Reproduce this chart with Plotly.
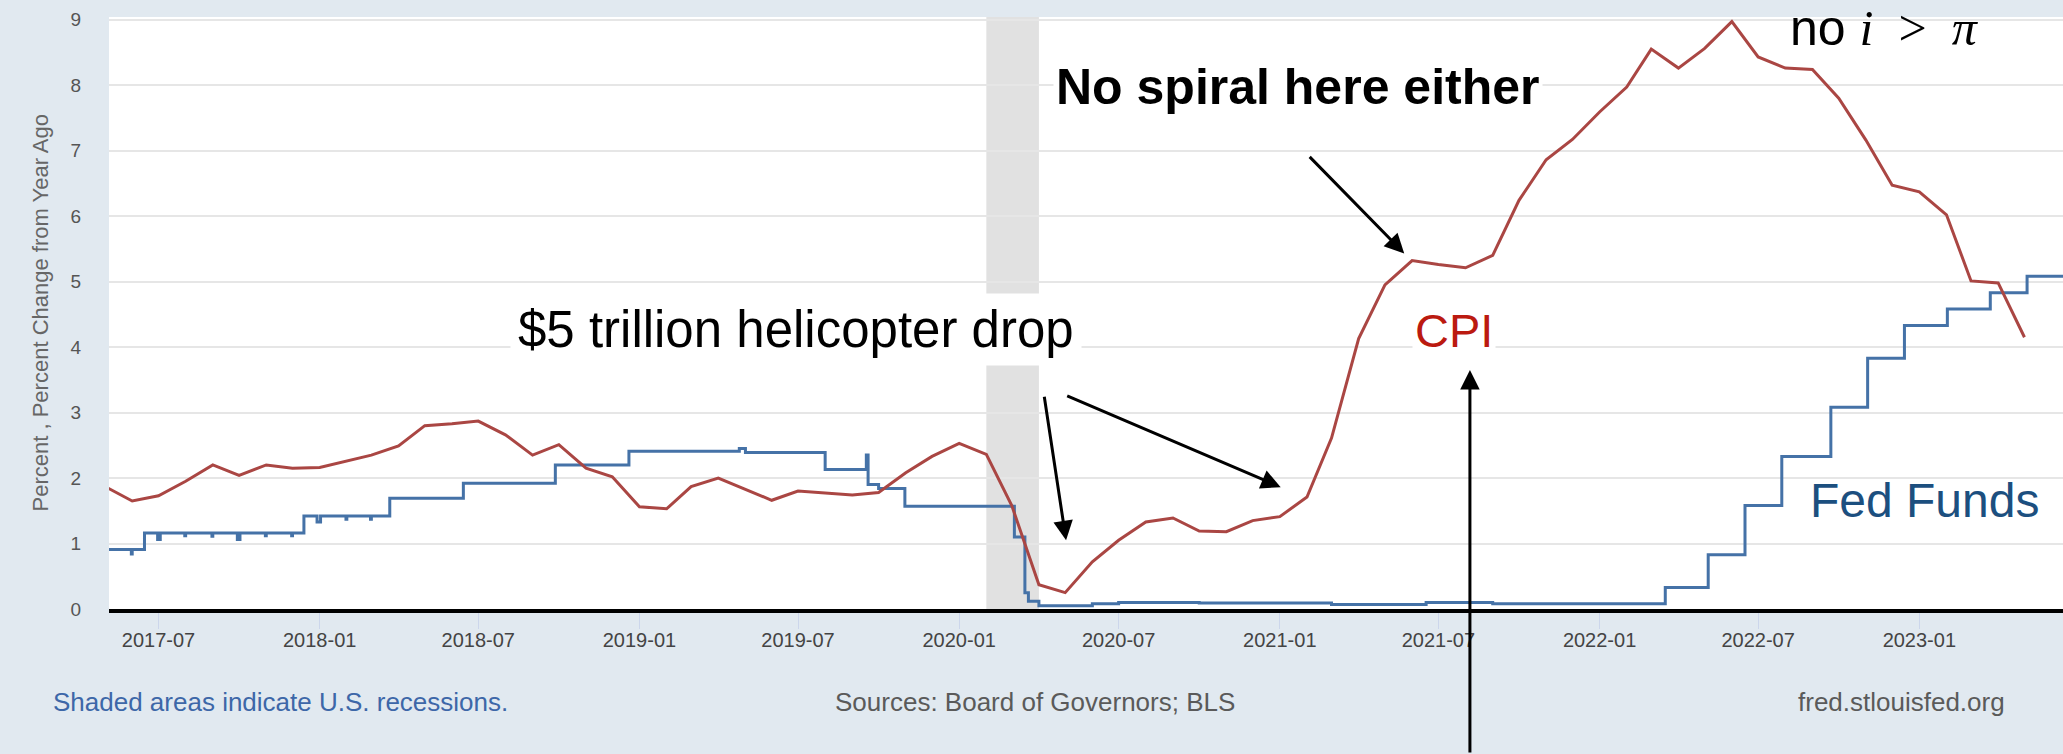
import plotly.graph_objects as go

# CPI, percent change from year ago (monthly)
cpi_months = [
    '2017-05-01', '2017-06-01', '2017-07-01', '2017-08-01', '2017-09-01', '2017-10-01', '2017-11-01', '2017-12-01',
    '2018-01-01', '2018-02-01', '2018-03-01', '2018-04-01', '2018-05-01', '2018-06-01', '2018-07-01', '2018-08-01',
    '2018-09-01', '2018-10-01', '2018-11-01', '2018-12-01',
    '2019-01-01', '2019-02-01', '2019-03-01', '2019-04-01', '2019-05-01', '2019-06-01', '2019-07-01', '2019-08-01',
    '2019-09-01', '2019-10-01', '2019-11-01', '2019-12-01',
    '2020-01-01', '2020-02-01', '2020-03-01', '2020-04-01', '2020-05-01', '2020-06-01', '2020-07-01', '2020-08-01',
    '2020-09-01', '2020-10-01', '2020-11-01', '2020-12-01',
    '2021-01-01', '2021-02-01', '2021-03-01', '2021-04-01', '2021-05-01', '2021-06-01', '2021-07-01', '2021-08-01',
    '2021-09-01', '2021-10-01', '2021-11-01', '2021-12-01',
    '2022-01-01', '2022-02-01', '2022-03-01', '2022-04-01', '2022-05-01', '2022-06-01', '2022-07-01', '2022-08-01',
    '2022-09-01', '2022-10-01', '2022-11-01', '2022-12-01',
    '2023-01-01', '2023-02-01', '2023-03-01', '2023-04-01', '2023-05-01',
]
cpi_values = [
    1.87, 1.65, 1.73, 1.95, 2.20, 2.04, 2.20, 2.15,
    2.16, 2.26, 2.35, 2.49, 2.80, 2.83, 2.87, 2.66, 2.35, 2.51, 2.15, 2.02,
    1.56, 1.53, 1.87, 2.00, 1.83, 1.66, 1.80, 1.77, 1.74, 1.78, 2.08, 2.33,
    2.53, 2.36, 1.58, 0.37, 0.25, 0.72, 1.05, 1.33, 1.39, 1.19, 1.18, 1.35,
    1.41, 1.71, 2.61, 4.13, 4.95, 5.32, 5.26, 5.21, 5.40, 6.24, 6.86, 7.17,
    7.59, 7.97, 8.55, 8.26, 8.56, 8.97, 8.43, 8.26, 8.24, 7.80, 7.16, 6.47,
    6.37, 6.02, 5.01, 4.98, 4.15,
]

# Effective federal funds rate (daily, kept as the dates where the level changes)
ff_dates = [
    '2017-05-05', '2017-05-31', '2017-06-01', '2017-06-15', '2017-06-30', '2017-07-03', '2017-07-31', '2017-08-01',
    '2017-08-31', '2017-09-01', '2017-09-29', '2017-10-02', '2017-10-31', '2017-11-01', '2017-11-30', '2017-12-01',
    '2017-12-14', '2017-12-29', '2018-01-02', '2018-01-31', '2018-02-01', '2018-02-28', '2018-03-01', '2018-03-22',
    '2018-06-14', '2018-09-27', '2018-12-20', '2019-04-25', '2019-05-02', '2019-08-01', '2019-09-17', '2019-09-19',
    '2019-10-01', '2019-10-31', '2020-03-04', '2020-03-16', '2020-03-20', '2020-04-01', '2020-06-01', '2020-07-01',
    '2020-10-01', '2021-01-01', '2021-03-01', '2021-06-17', '2021-09-01', '2022-03-17', '2022-05-05', '2022-06-16',
    '2022-07-28', '2022-09-22', '2022-11-03', '2022-12-15', '2023-02-02', '2023-03-23', '2023-05-04', '2023-06-14',
]
ff_values = [
    0.91, 0.84, 0.91, 1.16, 1.06, 1.16, 1.12, 1.16,
    1.11, 1.16, 1.06, 1.16, 1.12, 1.16, 1.12, 1.16,
    1.42, 1.33, 1.42, 1.37, 1.42, 1.37, 1.42, 1.69,
    1.92, 2.20, 2.41, 2.45, 2.39, 2.13, 2.35, 1.90,
    1.84, 1.57, 1.10, 0.25, 0.12, 0.05, 0.08, 0.10,
    0.09, 0.09, 0.07, 0.10, 0.08, 0.33, 0.83, 1.58,
    2.33, 3.08, 3.83, 4.33, 4.58, 4.83, 5.08, 5.08,
]

recession = ('2020-02-01', '2020-04-01')

fig = go.Figure()
fig.add_trace(go.Scatter(x=ff_dates, y=ff_values, mode='lines', line_shape='hv',
                         line=dict(color='#4572a7', width=3), name='Fed Funds'))
fig.add_trace(go.Scatter(x=cpi_months, y=cpi_values, mode='lines',
                         line=dict(color='#aa4643', width=3), name='CPI'))

fig.add_shape(type='rect', xref='x', yref='paper', x0=recession[0], x1=recession[1], y0=0, y1=1,
              fillcolor='#e1e1e1', line_width=0, layer='below')

sans = 'Liberation Sans, Arial, Helvetica, sans-serif'

notes = [
    dict(text='$5 trillion helicopter drop', x=0.3516, y=0.4713, font=dict(size=51, color='black'),
         bgcolor='white', borderpad=7),
    dict(text='<b>No spiral here either</b>', x=0.6084, y=0.8818, font=dict(size=50, color='black'),
         bgcolor='white', borderpad=2),
    dict(text='CPI', x=0.6883, y=0.470, font=dict(size=47, color='#bb1a10'), bgcolor='white', borderpad=2),
    dict(text='Fed Funds', x=0.9289, y=0.1841, font=dict(size=48, color='#1c4f7f')),
    dict(text="no <span style='font-family:Liberation Serif'><i>i</i>\u00a0\u00a0>\u00a0\u00a0<i>π</i></span>",
         x=0.9089, y=0.9806, font=dict(size=50, color='black')),
]
for n in notes:
    n['font']['family'] = sans
    fig.add_annotation(xref='paper', yref='paper', showarrow=False, xanchor='center', yanchor='middle', **n)

# arrows
arrows = [
    ('2021-05-23', 5.43, -96, -98),
    ('2020-05-02', 1.05, -22, -145),
    ('2021-01-02', 1.86, -215, -92),
    ('2021-08-06', 3.65, 0, 400),
]
for x, y, ax, ay in arrows:
    fig.add_annotation(x=x, y=y, ax=ax, ay=ay, text='', showarrow=True, arrowhead=2,
                       arrowsize=1.3, arrowwidth=3, arrowcolor='black', standoff=0)

# footer
footer_font = dict(family=sans, size=26)
fig.add_annotation(text='Shaded areas indicate U.S. recessions.', xref='paper', yref='paper',
                   x=-0.0299, y=-0.157, xanchor='left', yanchor='middle', showarrow=False,
                   font=dict(color='#3d67a8', **footer_font))
fig.add_annotation(text='Sources: Board of Governors; BLS', xref='paper', yref='paper',
                   x=0.4739, y=-0.157, xanchor='center', yanchor='middle', showarrow=False,
                   font=dict(color='#5a5a5a', **footer_font))
fig.add_annotation(text='fred.stlouisfed.org', xref='paper', yref='paper',
                   x=0.9712, y=-0.157, xanchor='right', yanchor='middle', showarrow=False,
                   font=dict(color='#5a5a5a', **footer_font))
fig.add_annotation(text='Percent , Percent Change from Year Ago', xref='paper', yref='paper',
                   x=-0.0425, y=0.5, textangle=-90, showarrow=False,
                   font=dict(family=sans, size=22, color='#666666'))

fig.update_layout(
    width=2063, height=754,
    margin=dict(l=109, r=0, t=17, b=145),
    paper_bgcolor='#e1e9f0',
    plot_bgcolor='white',
    showlegend=False,
    font=dict(family=sans),
)
fig.update_xaxes(type='date', range=['2017-05-05 12:00', '2023-06-14'],
                 tick0='2017-01-01', dtick='M6', tickformat='%Y-%m',
                 showgrid=False, showline=True, linecolor='black', linewidth=4,
                 ticks='outside', ticklen=16, tickcolor='#ccd6eb', tickwidth=1,
                 ticklabelstandoff=-6,
                 tickfont=dict(size=20, color='#444444'), zeroline=False)
fig.update_yaxes(range=[0, 9.04], dtick=1, showgrid=True, gridcolor='#e6e6e6', gridwidth=2,
                 zeroline=False, showline=False, ticklabelstandoff=27,
                 tickfont=dict(size=19, color='#555555'))

# the page body has a default margin; drop it so the figure sits at the window corner
fig.write_html('out.html', config={'displayModeBar': False},
               post_script="document.body.style.margin='0';")
